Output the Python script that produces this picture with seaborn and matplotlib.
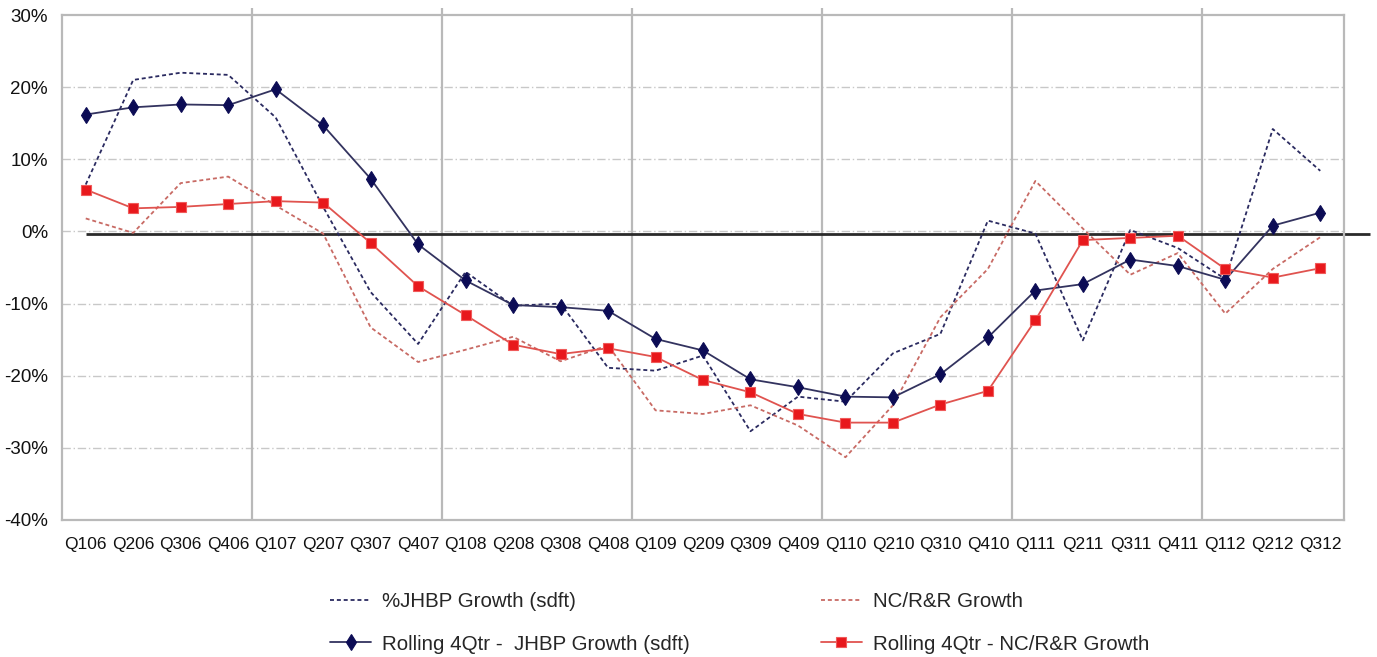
import matplotlib
matplotlib.use("Agg")
import matplotlib.pyplot as plt
import numpy as np
import pandas as pd
import seaborn as sns

# Quarter labels
quarters = ["Q106", "Q206", "Q306", "Q406", "Q107", "Q207", "Q307", "Q407",
            "Q108", "Q208", "Q308", "Q408", "Q109", "Q209", "Q309", "Q409",
            "Q110", "Q210", "Q310", "Q410", "Q111", "Q211", "Q311", "Q411",
            "Q112", "Q212", "Q312"]

# Quarterly growth rates (%)
jhbp_growth = [6.5, 21.0, 22.0, 21.7, 15.8, 3.4, -8.4, -15.6,
               -5.6, -10.3, -10.0, -18.9, -19.3, -17.2, -27.7, -22.9,
               -23.6, -16.9, -14.2, 1.5, -0.3, -15.1, 0.2, -2.3,
               -6.6, 14.2, 8.4]
ncrr_growth = [1.8, -0.2, 6.7, 7.6, 3.6, -0.3, -13.3, -18.1,
               -16.4, -14.6, -18.0, -15.8, -24.8, -25.3, -24.1, -26.9,
               -31.3, -24.1, -11.9, -5.2, 7.0, 0.4, -6.0, -3.0,
               -11.4, -5.2, -0.8]

# Rolling four-quarter growth rates (%)
rolling_jhbp = [16.2, 17.2, 17.6, 17.5, 19.7, 14.7, 7.3, -1.8,
                -6.8, -10.2, -10.5, -11.0, -14.9, -16.5, -20.5, -21.6,
                -22.9, -23.0, -19.8, -14.7, -8.2, -7.3, -3.9, -4.8,
                -6.7, 0.8, 2.6]
rolling_ncrr = [5.8, 3.2, 3.4, 3.8, 4.2, 4.0, -1.6, -7.6,
                -11.6, -15.7, -17.0, -16.2, -17.4, -20.6, -22.3, -25.3,
                -26.5, -26.5, -24.0, -22.1, -12.3, -1.2, -0.9, -0.6,
                -5.2, -6.4, -5.1]

y_ticks = [-40, -30, -20, -10, 0, 10, 20, 30]
baseline = -0.3

sns.set_style("white")
plt.rcParams["font.family"] = ["Liberation Sans", "DejaVu Sans"]

df = pd.DataFrame({
    "quarter": quarters,
    "pos": np.arange(len(quarters)),
    "jhbp": jhbp_growth,
    "ncrr": ncrr_growth,
    "roll_jhbp": rolling_jhbp,
    "roll_ncrr": rolling_ncrr,
})

fig = plt.figure(figsize=(13.77, 6.57), dpi=100)
ax = fig.add_axes([62 / 1377, 1 - 520 / 657, (1344 - 62) / 1377, (520 - 15) / 657])

n = len(quarters)
grid_grey = "#b9b9b9"

# Horizontal dash-dot grid
for v in y_ticks[1:-1]:
    ax.axhline(v, color="#c8c8c8", lw=1.0, ls=(0, (6, 2, 1, 2)), zorder=0)

# Year separators
for b in range(4, n, 4):
    ax.vlines(b - 0.5, -40, 31, color=grid_grey, lw=1.6, zorder=0.5, clip_on=False)

# Zero reference line
ax.plot([0, 27.05], [baseline, baseline], color="#2a2a2a", lw=2.0,
        zorder=1, clip_on=False, solid_capstyle="butt")

sns.lineplot(data=df, x="pos", y="jhbp", ax=ax, color="#2a2a60", lw=1.3,
             linestyle=(0, (2.2, 1.6)), label="%JHBP Growth (sdft)", zorder=2)
sns.lineplot(data=df, x="pos", y="ncrr", ax=ax, color="#c86a64", lw=1.3,
             linestyle=(0, (2.2, 1.6)), label="NC/R&R Growth", zorder=2)
sns.lineplot(data=df, x="pos", y="roll_jhbp", ax=ax, color="#33335f", lw=1.3,
             marker="d", markersize=8.5, markerfacecolor="#0c0c55",
             markeredgecolor="#0c0c55", markeredgewidth=0.8,
             label="Rolling 4Qtr -  JHBP Growth (sdft)", zorder=3)
sns.lineplot(data=df, x="pos", y="roll_ncrr", ax=ax, color="#e0534f", lw=1.3,
             marker="s", markersize=7.5, markerfacecolor="#e8181c",
             markeredgecolor="#f05a5a", markeredgewidth=0.8,
             label="Rolling 4Qtr - NC/R&R Growth", zorder=3)

ax.set_xlim(-0.5, n - 0.5)
ax.set_ylim(-40, 30)
ax.set_xlabel("")
ax.set_ylabel("")

ax.set_xticks(np.arange(n))
ax.set_xticklabels(quarters, fontsize=12.5, color="#111111")
ax.set_xticks(np.arange(n + 1) - 0.5, minor=True)
ax.tick_params(axis="x", which="major", length=0, pad=12)
ax.tick_params(axis="x", which="minor", length=6, width=1.2, color=grid_grey, direction="out")

ax.set_yticks(y_ticks)
ax.set_yticklabels([f"{v}%" for v in y_ticks], fontsize=13.5, color="#111111")
ax.tick_params(axis="y", which="major", length=5, width=1.0, color=grid_grey, pad=5)

for side in ["left", "right", "top", "bottom"]:
    ax.spines[side].set_visible(True)
    ax.spines[side].set_color(grid_grey)
    ax.spines[side].set_linewidth(1.6)

handles, labels = ax.get_legend_handles_labels()
ax.get_legend().remove()
order = [0, 2, 1, 3]
fig.legend([handles[i] for i in order], [labels[i] for i in order],
           loc="upper left", bbox_to_anchor=(330 / 1377, 1 - 592 / 657),
           ncol=2, frameon=False, fontsize=14.8, handlelength=2.0,
           handletextpad=0.55, columnspacing=6.35, labelspacing=1.15,
           borderpad=0, borderaxespad=0)

fig.savefig("out.png", dpi=100)
